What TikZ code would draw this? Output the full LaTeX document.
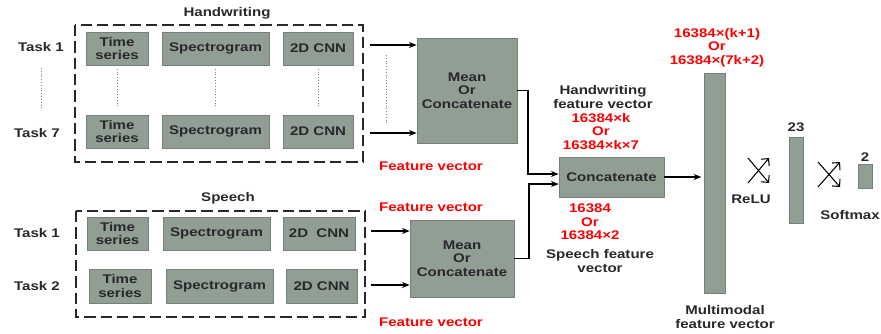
\documentclass[tikz,border=0pt]{standalone}
\usepackage{fontspec}
\setmainfont[FakeStretch=1.2]{Liberation Sans}
\usepackage{xcolor}
\usepackage{tikz}
\usetikzlibrary{arrows.meta, calc}

\definecolor{boxfill}{RGB}{145,158,148}
\definecolor{boxline}{RGB}{118,128,120}
\definecolor{txt}{RGB}{40,40,44}
\newcommand{\diafont}{\bfseries\fontsize{10.7}{11.5}\selectfont}
\tikzset{sz/.style 2 args={minimum width=#1*0.03cm, minimum height=#2*0.03cm}}

\begin{document}
\begin{tikzpicture}[x=0.03cm, y=-0.03cm, >={Stealth[length=2.3mm, width=1.8mm]}, font=\diafont,
    blk/.style={draw=boxline, fill=boxfill, line width=0.6pt, inner sep=0pt, align=center, text=txt},
    lbl/.style={text=txt, align=center, inner sep=0pt},
    redlbl/.style={text=red, align=center, inner sep=0pt},
    grp/.style={draw=txt, line width=1.6pt, dash pattern=on 0.34cm off 0.15cm},
    conn/.style={->, line width=1.2pt},
    dotline/.style={gray, dotted, thin}]
    \useasboundingbox (0,0) rectangle (881,333);

    % Handwriting branch
    \node[lbl] (hwtitle) at (227,13) {Handwriting};
    \draw[grp] (75,25) rectangle (363,162);
    \node[lbl] (hwt1) at (41,47) {Task 1};
    \node[lbl] (hwt7) at (37,133) {Task 7};
    \node[blk, sz={62}{33}]  (hwts1)   at (117,48.5)   {Time\\series};
    \node[blk, sz={107}{33}] (hwspec1) at (215.5,48.5) {Spectrogram};
    \node[blk, sz={70}{33}]  (hwcnn1)  at (318,48.5)   {2D CNN};
    \node[blk, sz={62}{33}]  (hwts7)   at (117,131.5)   {Time\\series};
    \node[blk, sz={107}{33}] (hwspec7) at (215.5,131.5) {Spectrogram};
    \node[blk, sz={70}{33}]  (hwcnn7)  at (318,131.5)   {2D CNN};
    \draw[dotline] (hwt1.south |- 0,68) -- (hwt1.south |- 0,108);
    \draw[dotline, shorten <=3pt, shorten >=6pt] (hwts1) -- (hwts7);
    \draw[dotline, shorten <=3pt, shorten >=6pt] (hwspec1) -- (hwspec7);
    \draw[dotline, shorten <=3pt, shorten >=6pt] (hwcnn1) -- (hwcnn7);

    \node[blk, sz={100}{105}] (hwmean) at (467,90.5) {Mean\\Or\\Concatenate};
    \coordinate (hwa1) at (370,45);
    \coordinate (hwa7) at (370,133);
    \draw[conn] (hwa1) -- (hwa1 -| hwmean.west);
    \draw[conn] (hwa7) -- (hwa7 -| hwmean.west);
    \draw[dotline] (386,55) -- (386,123);
    \node[redlbl] (hwfv) at (431,166) {Feature vector};

    % Speech branch
    \node[lbl] (sptitle) at (228,198) {Speech};
    \draw[grp] (76,211) rectangle (365,317);
    \node[lbl] (spt1) at (37,233) {Task 1};
    \node[lbl] (spt2) at (37,286) {Task 2};
    \node[blk, sz={61}{33}]  (spts1)   at (117.5,233.5) {Time\\series};
    \node[blk, sz={107}{33}] (spspec1) at (216.5,233.5) {Spectrogram};
    \node[blk, sz={72}{33}]  (spcnn1)  at (319,233.5)   {2D~~CNN};
    \node[blk, sz={62}{34}]  (spts2)   at (120,286)     {Time\\series};
    \node[blk, sz={107}{34}] (spspec2) at (219.5,286)   {Spectrogram};
    \node[blk, sz={71}{34}]  (spcnn2)  at (321.5,286)   {2D CNN};

    \node[blk, sz={104}{77}] (spmean) at (462,258.5) {Mean\\Or\\Concatenate};
    \coordinate (spa1) at (371,231);
    \coordinate (spa2) at (371,285);
    \draw[conn] (spa1) -- (spa1 -| spmean.west);
    \draw[conn] (spa2) -- (spa2 -| spmean.west);
    \node[redlbl] (spfv1) at (431,207) {Feature vector};
    \node[redlbl] (spfv2) at (431,322) {Feature vector};

    % Fusion
    \node[blk, sz={105}{40}] (concat) at (611.5,177) {Concatenate};
    \coordinate (j1) at (528,174);
    \coordinate (j2) at (529,184);
    \draw[conn] (hwmean.east) -| (j1) -- (j1 -| concat.west);
    \draw[conn] (spmean.east) -| (j2) -- (j2 -| concat.west);
    \node[lbl] (hwlab) at (603,97) {Handwriting\\feature vector};
    \node[redlbl] (hwdim) at (601,131.5) {16384×k\\Or\\16384×k×7};
    \node[redlbl] (spdim) at (590,222) {16384\\Or\\16384×2};
    \node[lbl] (splab) at (600,261) {Speech feature\\vector};

    % Classifier
    \node[blk, sz={21}{220}] (mmbar) at (714.5,183) {};
    \draw[conn, shorten >=2pt] (concat.east) -- (concat.east -| mmbar.west);
    \node[redlbl] (mmdim) at (717,47.5) {16384×(k+1)\\Or\\16384×(7k+2)};
    \node[lbl] (mmlab) at (725,317) {Multimodal\\feature vector};

    \draw[->, line width=0.9pt, >={Straight Barb[length=1.6mm]}] (748,183) -- (769,158);
    \draw[->, line width=0.9pt, >={Straight Barb[length=1.6mm]}] (748,158) -- (769,183);
    \node[lbl] (relu) at (751,199) {ReLU};
    \node[blk, sz={14}{86}] (bar23) at (796,180) {};
    \node[lbl] (n23) at (796,127) {23};

    \draw[->, line width=0.9pt, >={Straight Barb[length=1.6mm]}] (818,187) -- (840,162);
    \draw[->, line width=0.9pt, >={Straight Barb[length=1.6mm]}] (818,162) -- (840,187);
    \node[lbl] (smax) at (850,215) {Softmax};
    \node[blk, sz={14}{24}] (bar2) at (865,176) {};
    \node[lbl] (n2) at (865,157) {2};
\end{tikzpicture}
\end{document}
